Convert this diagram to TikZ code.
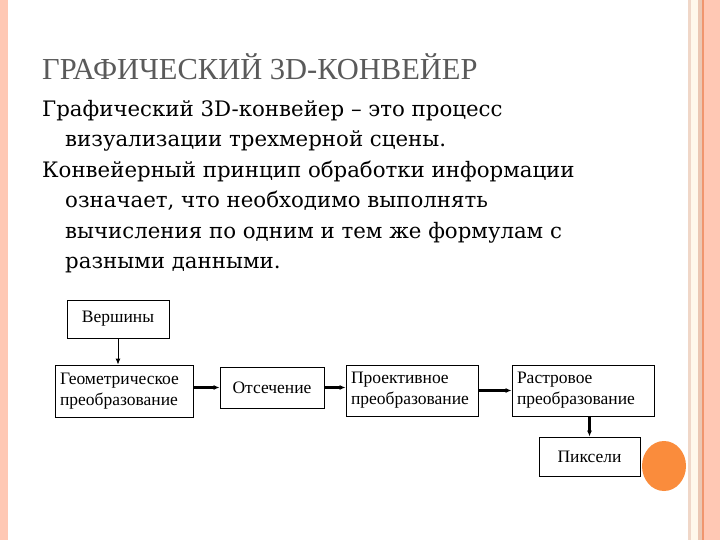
\documentclass[tikz,border=0pt]{standalone}
\usepackage{fontspec}
\setmainfont{Liberation Serif}
\newfontfamily\bodyf{DejaVu Serif}
\usetikzlibrary{arrows.meta}
\begin{document}
\begin{tikzpicture}[x=1pt,y=-1pt,
  blk/.style={draw,line width=0.9pt,inner xsep=5pt,inner ysep=0pt,font=\fontsize{17.5}{21}\selectfont,align=left},
  arr/.style={-{Latex[length=6pt,width=5pt]},line width=2.6pt},
  thin arr/.style={-{Latex[length=6pt,width=5pt]},line width=0.9pt}]
\useasboundingbox (0,0) rectangle (720,540);
\fill[white] (0,0) rectangle (720,540);
\fill[fill={rgb,255:red,255;green,200;blue,180}] (0,0) rectangle (8,540);
\fill[fill={rgb,255:red,240;green,215;blue,200}] (688,0) rectangle (691,540);
\fill[fill={rgb,255:red,255;green,248;blue,235}] (691,0) rectangle (698,540);
\fill[fill={rgb,255:red,235;green,200;blue,180}] (698,0) rectangle (702,540);
\fill[fill={rgb,255:red,240;green,150;blue,110}] (702,0) rectangle (704,540);
\fill[fill={rgb,255:red,255;green,200;blue,180}] (704,0) rectangle (720,540);
\node[anchor=base west,text={rgb,255:red,90;green,90;blue,90},font=\fontsize{30.5}{36}\selectfont,inner sep=0pt] (title) at (42,80) {ГРАФИЧЕСКИЙ 3D-КОНВЕЙЕР};
\node[anchor=north west,inner sep=0pt,align=left,font=\bodyf\fontsize{21.3}{30.5}\selectfont] (body) at (42,100)
{Графический 3D-конвейер – это процесс\\
\hspace*{23pt}визуализации трехмерной сцены.\\
Конвейерный принцип обработки информации\\
\hspace*{23pt}означает, что необходимо выполнять\\
\hspace*{23pt}вычисления по одним и тем же формулам с\\
\hspace*{23pt}разными данными.};
\node[blk,text width=92pt,minimum height=38pt,align=center] (v) at (118,319) {Вершины};
\node[blk,text width=128pt,minimum height=52pt] (g) at (124,391) {Геометрическое\\преобразование};
\node[blk,text width=94pt,minimum height=41pt,align=center] (o) at (272,387.5) {Отсечение};
\node[blk,text width=122pt,minimum height=51pt] (p) at (412,390.5) {Проективное\\преобразование};
\node[blk,text width=132pt,minimum height=51pt] (r) at (583,390.5) {Растровое\\преобразование};
\node[blk,text width=91pt,minimum height=39pt,align=center] (px) at (589.5,456.5) {Пиксели};
\draw[thin arr] (v.south) -- (v.south |- g.north);
\draw[arr] (g.east |- o) -- (o);
\draw[arr] (o) -- (o -| p.west);
\draw[arr] (p) -- (r);
\draw[arr] (r.south -| px) -- (px);
\fill[fill={rgb,255:red,250;green,140;blue,60}] (664,466) ellipse (22pt and 25pt);
\end{tikzpicture}
\end{document}
